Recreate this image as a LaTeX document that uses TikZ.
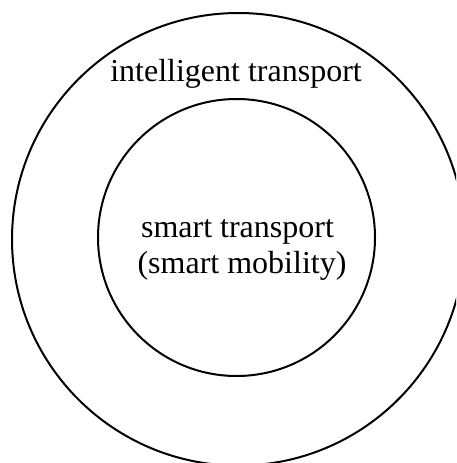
\documentclass[tikz,border=0pt]{standalone}
\usepackage{fontspec}
\setmainfont{Liberation Serif}
\begin{document}
\begin{tikzpicture}[x=1pt,y=-1pt,
  ring/.style={draw=black,line width=2pt,circle,inner sep=0pt,fill=none},
  label/.style={anchor=base,inner sep=0pt,font=\fontsize{32}{36}\selectfont}]
  % page frame
  \useasboundingbox (0,0) rectangle (456,463);
  \clip (0,0) rectangle (456,463);
  \fill[white] (0,0) rectangle (456,463);
  % the two rings
  \node[ring,minimum size=452.6pt] (outer) at (238.3,239.3) {};
  \node[ring,minimum size=277pt] (inner) at (236.5,237.5) {};
  % texts
  \node[label] (outerlabel) at (236,81) {intelligent transport};
  \node[label] (innerlabelA) at (237.5,237) {smart transport};
  \node[label] (innerlabelB) at (242,273) {(smart mobility)};
\end{tikzpicture}
\end{document}
